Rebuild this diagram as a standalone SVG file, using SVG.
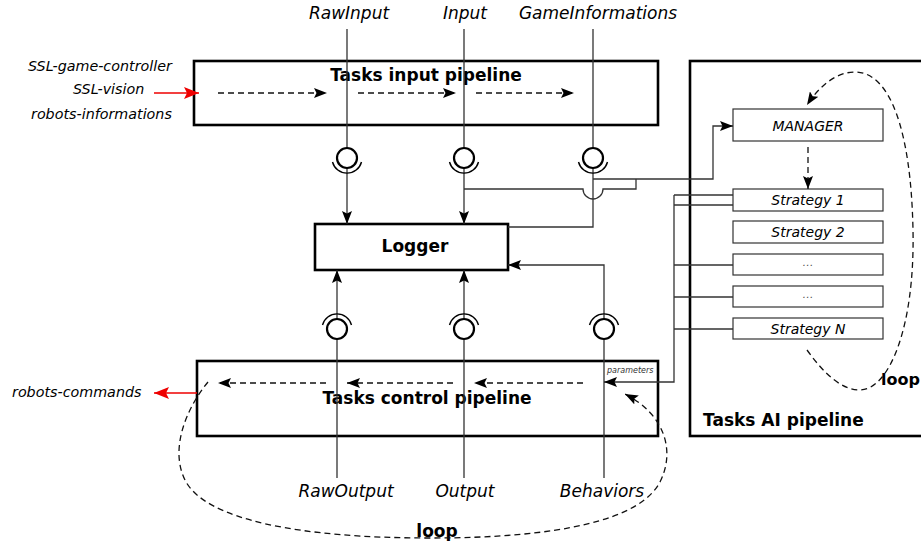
<svg xmlns="http://www.w3.org/2000/svg" width="921" height="544" viewBox="0 0 921 544">
<style>
text{font-family:"DejaVu Sans","Liberation Sans",sans-serif;fill:#000}
.lbl{font-style:italic;font-size:17px}
.ext{font-style:italic;font-size:14.3px}
.title{font-weight:bold;font-size:17px}
.small{font-style:italic;font-size:14px}
.box{fill:#fff;stroke:#000;stroke-width:2.6}
.sbox{fill:#fff;stroke:#333;stroke-width:1.2}
.ln{fill:none;stroke:#333;stroke-width:1.3}
.dash{fill:none;stroke:#111;stroke-width:1.3;stroke-dasharray:6,4}
.red{fill:none;stroke:#e00;stroke-width:1.4}
.ball{fill:#fff;stroke:#000;stroke-width:2.2}
.sock{fill:none;stroke:#000;stroke-width:1.4}
</style>
<defs>
<marker id="ah" viewBox="0 0 13 10" refX="13" refY="5" markerWidth="13" markerHeight="10" markerUnits="userSpaceOnUse" orient="auto"><path d="M0,0 L13,5 L0,10 L2.5,5 z" fill="#000"/></marker>
<marker id="ahr" viewBox="0 0 15 12" refX="15" refY="6" markerWidth="15" markerHeight="12" markerUnits="userSpaceOnUse" orient="auto"><path d="M0,0 L15,6 L0,12 L3,6 z" fill="#e00"/></marker>
</defs>

<g id="input-pipeline">
<rect class="box" x="194" y="61" width="464" height="64"/>
<text class="title" x="426" y="81" text-anchor="middle">Tasks input pipeline</text>
</g>
<g id="logger">
<rect class="box" x="315" y="224" width="193" height="46"/>
<text class="title" x="415" y="252" text-anchor="middle">Logger</text>
</g>
<g id="control-pipeline">
<rect class="box" x="197" y="361" width="461" height="75"/>
<text class="title" x="427" y="404" text-anchor="middle">Tasks control pipeline</text>
<text x="607" y="373" style="font-style:italic;font-size:8px;fill:#333">parameters</text>
</g>
<g id="ai-pipeline">
<rect class="box" x="690" y="61" width="240" height="375"/>
<text class="title" x="703" y="426">Tasks AI pipeline</text>
<text class="title" x="881" y="385" style="font-size:16px">loop</text>
</g>
<g id="manager">
<rect class="sbox" x="733" y="109" width="150" height="32"/>
<text class="small" x="808" y="131" text-anchor="middle">MANAGER</text>
</g>
<g id="strategy-1">
<rect class="sbox" x="733" y="189" width="150" height="22"/>
<text class="small" x="808" y="205" text-anchor="middle">Strategy 1</text>
</g>
<g id="strategy-2">
<rect class="sbox" x="733" y="221" width="150" height="22"/>
<text class="small" x="808" y="237" text-anchor="middle">Strategy 2</text>
</g>
<g id="strategy-3">
<rect class="sbox" x="733" y="254" width="150" height="21"/>
<text x="808" y="266" text-anchor="middle" style="font-style:italic;font-size:11px;fill:#555">…</text>
</g>
<g id="strategy-4">
<rect class="sbox" x="733" y="286" width="150" height="21"/>
<text x="808" y="298" text-anchor="middle" style="font-style:italic;font-size:11px;fill:#555">…</text>
</g>
<g id="strategy-n">
<rect class="sbox" x="733" y="318" width="150" height="21"/>
<text class="small" x="808" y="334" text-anchor="middle">Strategy N</text>
</g>

<g id="labels">
<text class="lbl" x="349" y="19" text-anchor="middle">RawInput</text>
<text class="lbl" x="465" y="19" text-anchor="middle">Input</text>
<text class="lbl" x="598" y="19" text-anchor="middle">GameInformations</text>
<text class="lbl" x="346" y="497" text-anchor="middle">RawOutput</text>
<text class="lbl" x="465" y="497" text-anchor="middle">Output</text>
<text class="lbl" x="602" y="497" text-anchor="middle">Behaviors</text>
<text class="ext" x="28" y="71">SSL-game-controller</text>
<text class="ext" x="73" y="94">SSL-vision</text>
<text class="ext" x="31" y="119">robots-informations</text>
<text class="ext" x="12" y="397">robots-commands</text>
<text class="title" x="437" y="537" text-anchor="middle">loop</text>
</g>

<g id="connectors">
<path class="ln" d="M347,29 V148 M464,29 V148 M593,29 V148"/>
<path class="ln" d="M347,168 V224" marker-end="url(#ah)"/>
<path class="ln" d="M464,168 V224" marker-end="url(#ah)"/>
<path class="ln" d="M593,168 V227 H508"/>
<path class="ln" d="M464,189 H583 A10,10 0 0 0 603,189 H636 V179"/>
<path class="ln" d="M593,179 H713 V126 H733" marker-end="url(#ah)"/>
<path class="ln" d="M337,478 V339 M464,478 V339 M604,478 V339"/>
<path class="ln" d="M337,319 V270" marker-end="url(#ah)"/>
<path class="ln" d="M464,319 V270" marker-end="url(#ah)"/>
<path class="ln" d="M604,319 V265 H508" marker-end="url(#ah)"/>
<path class="ln" d="M674,195 H733 M674,205 H733 M674,265 H733 M674,297 H733 M674,329 H733"/>
<path class="ln" d="M674,195 V382 H604" marker-end="url(#ah)"/>
<path class="dash" d="M218,93 H327" marker-end="url(#ah)"/>
<path class="dash" d="M358,93 H456" marker-end="url(#ah)"/>
<path class="dash" d="M476,93 H574" marker-end="url(#ah)"/>
<path class="dash" d="M583,383 H474" marker-end="url(#ah)"/>
<path class="dash" d="M453,383 H347" marker-end="url(#ah)"/>
<path class="dash" d="M326,383 H218" marker-end="url(#ah)"/>
<path class="dash" d="M808,147 V189" marker-end="url(#ah)"/>
<path class="dash" d="M208,382 C185,410 170,450 185,480 C205,520 300,538 430,538 C560,538 640,520 660,482 C676,450 664,414 625,394" marker-end="url(#ah)"/>
<path class="dash" d="M807,350 C825,375 842,390 860,390 C888,390 915,330 913,230 C911,130 890,72 855,72 C835,72 818,88 807,105" marker-end="url(#ah)"/>
<path class="red" d="M154,93 H199" marker-end="url(#ahr)"/>
<path class="red" d="M197,393 H154" marker-end="url(#ahr)"/>
</g>

<g id="interfaces">
<circle class="ball" cx="347" cy="158" r="10"/>
<path class="sock" d="M361.5,162 A15,15 0 0 1 332.5,162"/>
<circle class="ball" cx="464" cy="158" r="10"/>
<path class="sock" d="M478.5,162 A15,15 0 0 1 449.5,162"/>
<circle class="ball" cx="593" cy="158" r="10"/>
<path class="sock" d="M607.5,162 A15,15 0 0 1 578.5,162"/>
<circle class="ball" cx="337" cy="329" r="10"/>
<path class="sock" d="M322.5,325 A15,15 0 0 1 351.5,325"/>
<circle class="ball" cx="464" cy="329" r="10"/>
<path class="sock" d="M449.5,325 A15,15 0 0 1 478.5,325"/>
<circle class="ball" cx="604" cy="329" r="10"/>
<path class="sock" d="M589.5,325 A15,15 0 0 1 618.5,325"/>
</g>
</svg>
